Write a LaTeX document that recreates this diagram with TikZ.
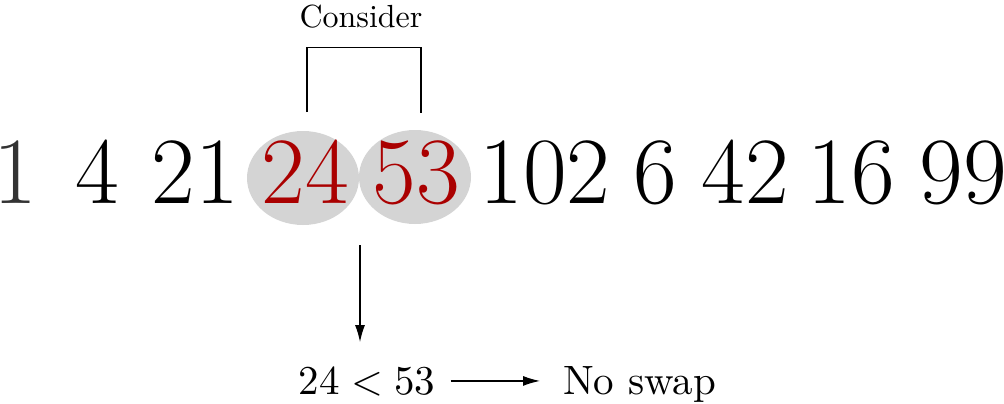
\documentclass[tikz,border=0pt]{standalone}
\usepackage{fontspec}
\setmainfont{lmroman10-regular}[Extension=.otf]
\newfontfamily\bigdigits{lmroman17-regular}[Extension=.otf]
\usetikzlibrary{arrows.meta}
\definecolor{numred}{RGB}{170,0,0}
\definecolor{pickgray}{RGB}{212,212,212}
\tikzset{
  num/.style={inner sep=0pt, anchor=base, font=\bigdigits\fontsize{95}{95}\selectfont},
  pick/.style={num, text=numred},
  small/.style={inner sep=0pt, font=\fontsize{41}{41}\selectfont},
  brk/.style={line width=1.2pt},
  arr/.style={line width=1.2pt, -{Latex[length=17pt,width=10pt]}},
}

\begin{document}
\begin{tikzpicture}[x=1pt,y=1pt,yscale=-1]
\useasboundingbox (0,0) rectangle (1004,404);

%Shape: Ellipse
\fill[pickgray] (303,178) ellipse (56 and 47);
%Shape: Ellipse
\fill[pickgray] (415,177) ellipse (56 and 47);

% Number Nodes
\node[num, text=black!80] (n1) at (15,203) {1};
\node[num] (n4) at (97,203) {4};
\node[num] (n21) at (195,203) {21};
\node[pick] (n24) at (305,203) {24};
\node[pick] (n53) at (416,203) {53};
\node[num] (n102) at (545,203) {102};
\node[num] (n6) at (655,203) {6};
\node[num] (n42) at (745,203) {42};
\node[num] (n16) at (851,203) {16};
\node[num] (n99) at (963,203) {99};

% Text Node
\node[inner sep=0pt, font=\fontsize{32}{32}\selectfont] (cons) at (361,17) {Consider};

%Bracket
\path (n24.north) ++(2,-27) coordinate (bl);
\path (n53.north) ++(5,-27) coordinate (br);
\draw[brk] (bl) -- ++(0,-65) -| (br);

% Text Node
\node[small, anchor=base] (cmp) at (367,394) {24\hspace{0.28em}\textless\hspace{0.28em}53};
% Text Node
\node[small, anchor=base west] (swap) at (563,394) {No swap};

%Straight Lines
\coordinate (dtop) at (360,245);
\draw[arr, shorten >=24pt] (dtop) -- (dtop |- cmp.north);
%Straight Lines
\draw[arr, shorten <=15pt, shorten >=23pt] (cmp.east) -- (cmp.east -| swap.west);

\end{tikzpicture}
\end{document}
